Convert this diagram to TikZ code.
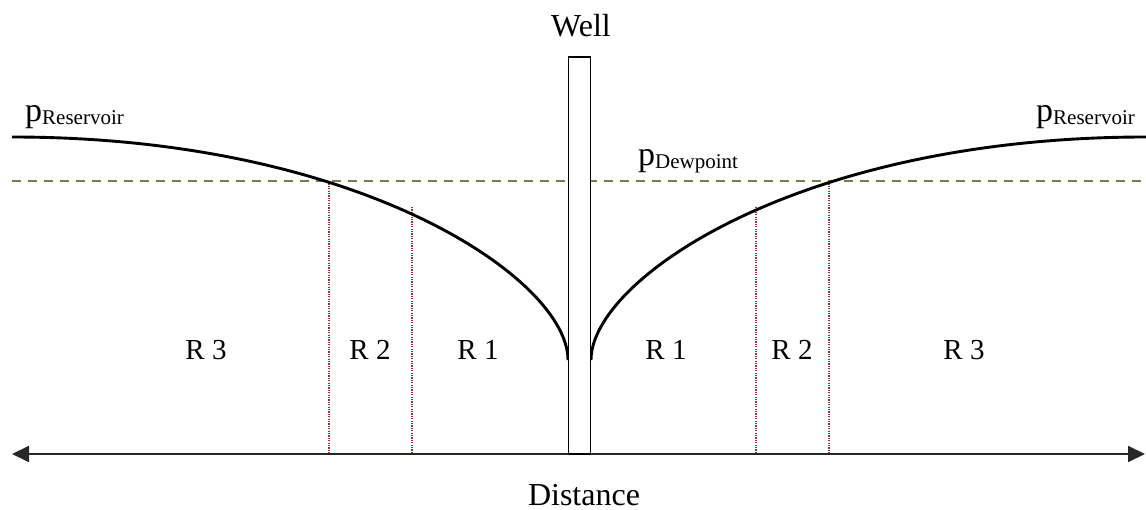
\documentclass[tikz,border=0pt]{standalone}
\usepackage{fontspec}
\setmainfont{Liberation Serif}
\usetikzlibrary{arrows.meta}
\definecolor{dewgreen}{RGB}{112,128,80}
\definecolor{dotred}{RGB}{140,55,55}
\definecolor{axisgray}{RGB}{40,40,40}
\tikzset{
  curveline/.style={line width=2.9pt, black},
  dewline/.style={line width=1.9pt, dewgreen, dash pattern=on 9pt off 7pt},
  zoneline/.style={line width=1.2pt, dotred, dash pattern=on 1.2pt off 1.2pt},
  axisline/.style={line width=1.8pt, axisgray, {Triangle[length=17pt,width=16pt]}-{Triangle[length=17pt,width=16pt]}},
  wellbox/.style={draw, line width=1.6pt, fill=white, minimum width=22pt, minimum height=397pt, inner sep=0pt},
  bigtext/.style={font=\fontsize{32}{32}\selectfont, inner sep=0pt},
  zonetext/.style={font=\fontsize{29}{29}\selectfont, inner sep=0pt, anchor=base},
  ptext/.style={font=\fontsize{34}{34}\selectfont, inner sep=0pt, anchor=base west},
}
\newcommand{\psub}[1]{p\raisebox{-3pt}{\fontsize{21}{21}\selectfont #1}}
\begin{document}
\begin{tikzpicture}[x=1pt,y=-1pt]
\useasboundingbox (0,0) rectangle (1146,510);
% coordinates
\coordinate (axL) at (12,454);
\coordinate (axR) at (1145,454);
\coordinate (dewL) at (12,181);
\coordinate (dewR) at (1146,181);
\coordinate (cLstart) at (12,137);
\coordinate (cLend) at (568,360);
\coordinate (cRstart) at (591,360);
\coordinate (cRend) at (1146,137);
\coordinate (zL1t) at (329,181);
\coordinate (zL1b) at (329,454);
\coordinate (zL2t) at (412,207);
\coordinate (zL2b) at (412,454);
\coordinate (zR2t) at (756,207);
\coordinate (zR2b) at (756,454);
\coordinate (zR1t) at (829,181);
\coordinate (zR1b) at (829,454);
% dewpoint line
\draw[dewline] (dewL) -- (dewR);
% zone boundaries
\draw[zoneline] (zL1t) -- (zL1b);
\draw[zoneline] (zL2t) -- (zL2b);
\draw[zoneline] (zR2t) -- (zR2b);
\draw[zoneline] (zR1t) -- (zR1b);
% pressure curves
\draw[curveline] (cLstart) .. controls (362,137) and (568,280) .. (cLend);
\draw[curveline] (cRstart) .. controls (591,280) and (797,137) .. (cRend);
% axis
\draw[axisline] (axL) -- (axR);
% well
\node[wellbox] (well) at (579.5,255.5) {};
\node[bigtext] (welllabel) at (581,26) {Well};
\node[bigtext, anchor=base, text depth=0pt] (distance) at (584,505) {Distance};
% labels
\node[ptext] (presL) at (25,122) {\psub{Reservoir}};
\node[ptext] (presR) at (1036,122) {\psub{Reservoir}};
\node[ptext] (pdew) at (638,166) {\psub{Dewpoint}};
% zones
\node[zonetext] (r3l) at (206,360) {R 3};
\node[zonetext] (r2l) at (370,360) {R 2};
\node[zonetext] (r1l) at (478,360) {R 1};
\node[zonetext] (r1r) at (666,360) {R 1};
\node[zonetext] (r2r) at (792,360) {R 2};
\node[zonetext] (r3r) at (964,360) {R 3};
\end{tikzpicture}
\end{document}
